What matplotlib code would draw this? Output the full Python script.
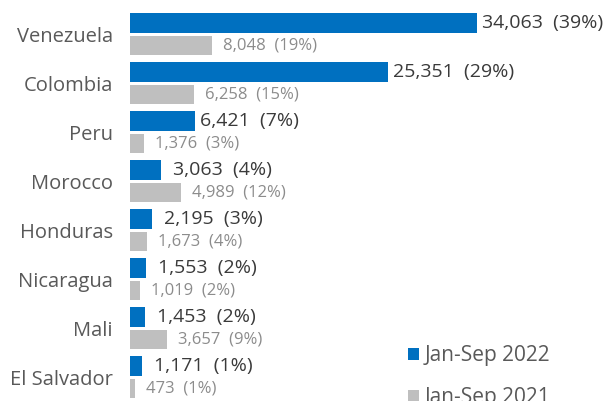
import matplotlib
matplotlib.use("Agg")
import matplotlib.pyplot as plt
import numpy as np

plt.rcParams['font.family'] = ['Open Sans', 'DejaVu Sans']

countries = ["Venezuela", "Colombia", "Peru", "Morocco", "Honduras",
             "Nicaragua", "Mali", "El Salvador"]
values_2022 = [34063, 25351, 6421, 3063, 2195, 1553, 1453, 1171]
pct_2022 = [39, 29, 7, 4, 3, 2, 2, 1]
values_2021 = [8048, 6258, 1376, 4989, 1673, 1019, 3657, 473]
pct_2021 = [19, 15, 3, 12, 4, 2, 9, 1]
series_labels = ["Jan-Sep 2022", "Jan-Sep 2021"]

BLUE = "#0070C0"
GRAY = "#BFBFBF"
DARK = "#3a3a3a"
LGRAY = "#8c8c8c"

W, H = 611, 401
fig = plt.figure(figsize=(W / 100, H / 100), dpi=100)
ax = fig.add_axes([130 / W, 0, 1 - 130 / W, 1])

y = np.arange(len(countries))
off = 0.23
h = 0.40
b1 = ax.barh(y - off, values_2022, height=h, color=BLUE, label=series_labels[0])
b2 = ax.barh(y + off, values_2021, height=h, color=GRAY, label=series_labels[1])

ax.set_xlim(0, 47200)
ax.set_ylim(7.484, -0.70)
ax.set_yticks(y)
ax.set_yticklabels(countries, fontsize=14.5, color="#595959")
ax.tick_params(axis='y', length=0, pad=12.5)
ax.set_xticks([])
for s in ax.spines.values():
    s.set_visible(False)

for yi, v, p in zip(y, values_2022, pct_2022):
    offs = 5 if v > 5000 else 12
    ax.annotate(f"{v:,}  ({p}%)", (v, yi - off), xytext=(offs * 0.72, 0),
                textcoords="offset points", va="center", ha="left",
                fontsize=14, color=DARK)
for yi, v, p in zip(y, values_2021, pct_2021):
    ax.annotate(f"{v:,}  ({p}%)", (v, yi + off), xytext=(11 * 0.72, 0),
                textcoords="offset points", va="center", ha="left",
                fontsize=12, color=LGRAY)

leg = fig.legend(handles=[b1, b2], labels=series_labels,
                 loc="upper left", bbox_to_anchor=(400 / W, 1 - 337 / H),
                 frameon=False, fontsize=15, handlelength=0.5, handleheight=0.5,
                 handletextpad=0.3, labelspacing=1.0, borderaxespad=0)
for t in leg.get_texts():
    t.set_color("#595959")

fig.savefig("out.png", dpi=100)
